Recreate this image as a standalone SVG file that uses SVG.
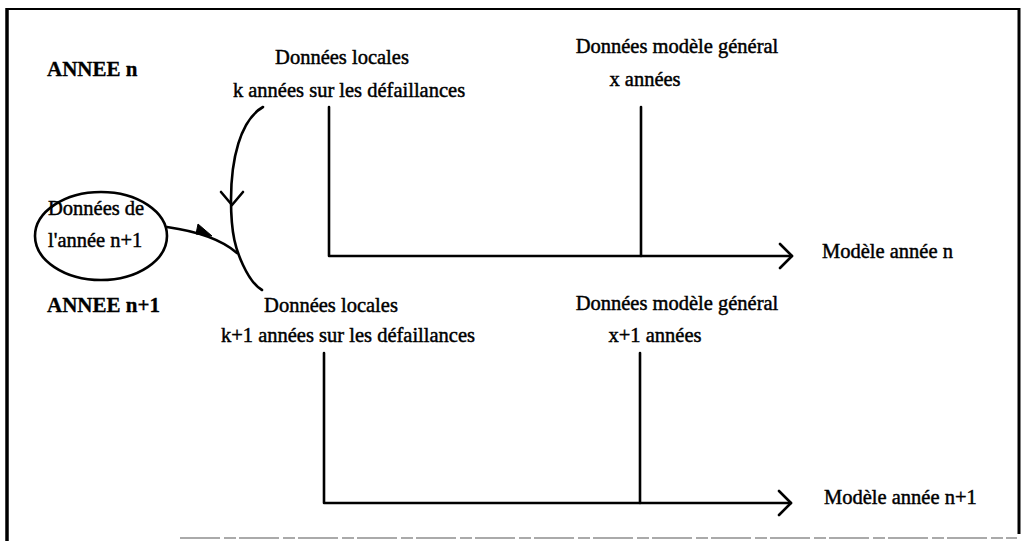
<svg xmlns="http://www.w3.org/2000/svg" width="1028" height="541" viewBox="0 0 1028 541">
<style>
.t{font-size:20.5px;fill:#000;stroke:#000;stroke-width:0.45}
.b{font-weight:bold;font-size:21px;stroke-width:0.3}
.m{text-anchor:middle}
.ln{fill:none;stroke:#000;stroke-width:2.6;stroke-linecap:round;stroke-linejoin:round}
</style>
<rect width="1028" height="541" fill="#fff"/>
<g id="frame">
<line x1="7" y1="9" x2="1019" y2="9" stroke="#000" stroke-width="2.2"/>
<line x1="7" y1="8" x2="7" y2="541" stroke="#000" stroke-width="3.5"/>
<line x1="1019" y1="8" x2="1019" y2="534" stroke="#000" stroke-width="3"/>
<line x1="180" y1="538" x2="1017" y2="538" stroke="#aaa" stroke-width="2" stroke-dasharray="40 4 12 3"/>
</g>
<g font-family="Liberation Serif, 'Times New Roman', 'DejaVu Serif', serif">
<g id="labels">
<text class="t b" x="47" y="76">ANNEE n</text>
<text class="t b" x="47" y="312">ANNEE n+1</text>
</g>
<g id="local-n">
<text class="t m" x="342" y="64">Données locales</text>
<text class="t m" x="349" y="97">k années sur les défaillances</text>
</g>
<g id="general-n">
<text class="t m" x="677" y="53">Données modèle général</text>
<text class="t m" x="645" y="86">x années</text>
</g>
<g id="model-n">
<text class="t" x="822" y="258">Modèle année n</text>
</g>
<g id="local-n1">
<text class="t m" x="331" y="312">Données locales</text>
<text class="t m" x="348" y="342">k+1 années sur les défaillances</text>
</g>
<g id="general-n1">
<text class="t m" x="677" y="310">Données modèle général</text>
<text class="t m" x="655" y="342">x+1 années</text>
</g>
<g id="model-n1">
<text class="t" x="824" y="504">Modèle année n+1</text>
</g>
<g id="new-data">
<ellipse cx="101" cy="236" rx="66" ry="44" class="ln"/>
<text class="t" x="48" y="215">Données de</text>
<text class="t" x="48" y="247">l'année n+1</text>
</g>
</g>
<g id="connectors">
<path class="ln" d="M329 107 V256 H792"/>
<path class="ln" d="M641 107 V256"/>
<path class="ln" d="M780 244 L792 256 L780 268"/>
<path class="ln" d="M324 353 V503 H791"/>
<path class="ln" d="M640 353 V503"/>
<path class="ln" d="M779 491 L791 503 L779 515"/>
<path class="ln" d="M263 107 C240 120 231 160 231 200 C231 235 236 250 243 265 C249 278 255 286 262 290"/>
<path class="ln" d="M221 192 L232 205 L243 192"/>
<path class="ln" d="M167 227 C195 231 220 238 237 253"/>
<path d="M198 224 L212 236 L196 234 Z" fill="#000" stroke="#000" stroke-width="1"/>
</g>
</svg>
